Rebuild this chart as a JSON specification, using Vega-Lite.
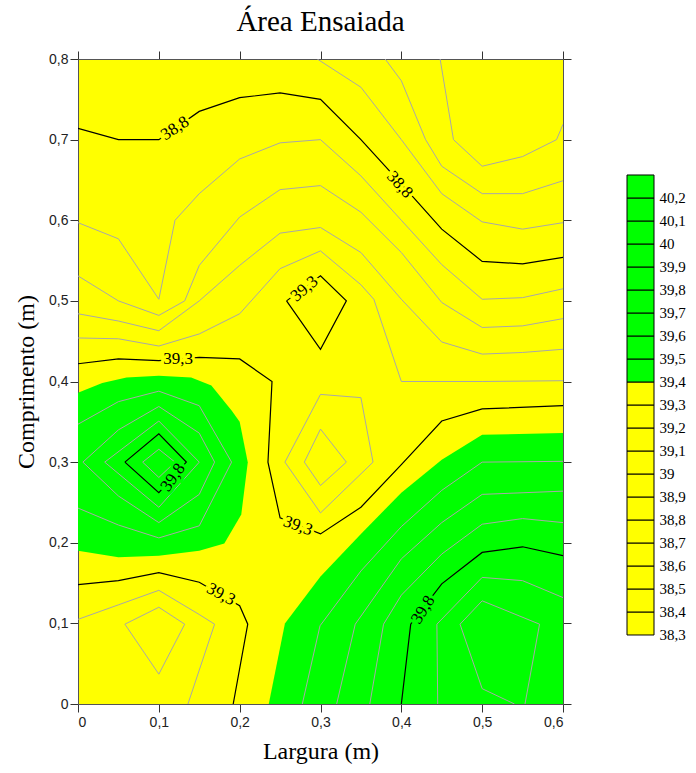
{
  "$schema": "https://vega.github.io/schema/vega-lite/v6.json",
  "background": "white",
  "padding": {"left": 14, "top": 7, "right": 5, "bottom": 5},
  "bounds": "flush",
  "spacing": 64,
  "config": {"font": "Liberation Sans", "view": {"stroke": null}},
  "datasets": {
    "shapes": [
      {"g":"f1","k":"f","i":0,"x":0,"y":0.386},{"g":"f1","k":"f","i":1,"x":0.03,"y":0.398},{"g":"f1","k":"f","i":2,"x":0.06,"y":0.405},{"g":"f1","k":"f","i":3,"x":0.1,"y":0.407},{"g":"f1","k":"f","i":4,"x":0.14,"y":0.405},{"g":"f1","k":"f","i":5,"x":0.165,"y":0.395},{"g":"f1","k":"f","i":6,"x":0.19,"y":0.364},{"g":"f1","k":"f","i":7,"x":0.2,"y":0.35},{"g":"f1","k":"f","i":8,"x":0.21,"y":0.3},{"g":"f1","k":"f","i":9,"x":0.202,"y":0.235},{"g":"f1","k":"f","i":10,"x":0.181,"y":0.199},{"g":"f1","k":"f","i":11,"x":0.15,"y":0.19},{"g":"f1","k":"f","i":12,"x":0.1,"y":0.184},{"g":"f1","k":"f","i":13,"x":0.05,"y":0.182},{"g":"f1","k":"f","i":14,"x":0,"y":0.19},
      {"g":"f2","k":"f","i":0,"x":0.236,"y":0},{"g":"f2","k":"f","i":1,"x":0.256,"y":0.1},{"g":"f2","k":"f","i":2,"x":0.3,"y":0.158},{"g":"f2","k":"f","i":3,"x":0.35,"y":0.211},{"g":"f2","k":"f","i":4,"x":0.4,"y":0.262},{"g":"f2","k":"f","i":5,"x":0.45,"y":0.303},{"g":"f2","k":"f","i":6,"x":0.5,"y":0.334},{"g":"f2","k":"f","i":7,"x":0.6,"y":0.336},{"g":"f2","k":"f","i":8,"x":0.6,"y":0},

      {"g":"g1","k":"g","i":0,"x":0.448,"y":0.8},{"g":"g1","k":"g","i":1,"x":0.4645,"y":0.7},{"g":"g1","k":"g","i":2,"x":0.5,"y":0.667},{"g":"g1","k":"g","i":3,"x":0.55,"y":0.679},{"g":"g1","k":"g","i":4,"x":0.592,"y":0.7},{"g":"g1","k":"g","i":5,"x":0.6,"y":0.719},
      {"g":"g2","k":"g","i":0,"x":0.38,"y":0.8},{"g":"g2","k":"g","i":1,"x":0.4,"y":0.773},{"g":"g2","k":"g","i":2,"x":0.43,"y":0.7},{"g":"g2","k":"g","i":3,"x":0.45,"y":0.667},{"g":"g2","k":"g","i":4,"x":0.5,"y":0.633},{"g":"g2","k":"g","i":5,"x":0.55,"y":0.633},{"g":"g2","k":"g","i":6,"x":0.6,"y":0.649},
      {"g":"g3","k":"g","i":0,"x":0.296,"y":0.8},{"g":"g3","k":"g","i":1,"x":0.35,"y":0.765},{"g":"g3","k":"g","i":2,"x":0.4,"y":0.7},{"g":"g3","k":"g","i":3,"x":0.45,"y":0.633},{"g":"g3","k":"g","i":4,"x":0.5,"y":0.598},{"g":"g3","k":"g","i":5,"x":0.55,"y":0.589},{"g":"g3","k":"g","i":6,"x":0.6,"y":0.597},
      {"g":"g4","k":"g","i":0,"x":0,"y":0.597},{"g":"g4","k":"g","i":1,"x":0.05,"y":0.577},{"g":"g4","k":"g","i":2,"x":0.1,"y":0.502},{"g":"g4","k":"g","i":3,"x":0.12,"y":0.6},{"g":"g4","k":"g","i":4,"x":0.15,"y":0.633},{"g":"g4","k":"g","i":5,"x":0.2,"y":0.676},{"g":"g4","k":"g","i":6,"x":0.25,"y":0.696},{"g":"g4","k":"g","i":7,"x":0.3,"y":0.7},{"g":"g4","k":"g","i":8,"x":0.35,"y":0.655},{"g":"g4","k":"g","i":9,"x":0.4,"y":0.6},{"g":"g4","k":"g","i":10,"x":0.45,"y":0.545},{"g":"g4","k":"g","i":11,"x":0.5,"y":0.502},{"g":"g4","k":"g","i":12,"x":0.55,"y":0.504},{"g":"g4","k":"g","i":13,"x":0.6,"y":0.515},
      {"g":"g5","k":"g","i":0,"x":0,"y":0.531},{"g":"g5","k":"g","i":1,"x":0.05,"y":0.5},{"g":"g5","k":"g","i":2,"x":0.1,"y":0.482},{"g":"g5","k":"g","i":3,"x":0.132,"y":0.5},{"g":"g5","k":"g","i":4,"x":0.15,"y":0.544},{"g":"g5","k":"g","i":5,"x":0.2,"y":0.604},{"g":"g5","k":"g","i":6,"x":0.25,"y":0.638},{"g":"g5","k":"g","i":7,"x":0.3,"y":0.643},{"g":"g5","k":"g","i":8,"x":0.35,"y":0.61},{"g":"g5","k":"g","i":9,"x":0.4,"y":0.56},{"g":"g5","k":"g","i":10,"x":0.45,"y":0.498},{"g":"g5","k":"g","i":11,"x":0.5,"y":0.467},{"g":"g5","k":"g","i":12,"x":0.55,"y":0.469},{"g":"g5","k":"g","i":13,"x":0.6,"y":0.478},
      {"g":"g6","k":"g","i":0,"x":0,"y":0.484},{"g":"g6","k":"g","i":1,"x":0.05,"y":0.475},{"g":"g6","k":"g","i":2,"x":0.1,"y":0.463},{"g":"g6","k":"g","i":3,"x":0.15,"y":0.5},{"g":"g6","k":"g","i":4,"x":0.2,"y":0.544},{"g":"g6","k":"g","i":5,"x":0.25,"y":0.584},{"g":"g6","k":"g","i":6,"x":0.3,"y":0.591},{"g":"g6","k":"g","i":7,"x":0.35,"y":0.56},{"g":"g6","k":"g","i":8,"x":0.4,"y":0.502},{"g":"g6","k":"g","i":9,"x":0.45,"y":0.449},{"g":"g6","k":"g","i":10,"x":0.5,"y":0.434},{"g":"g6","k":"g","i":11,"x":0.55,"y":0.436},{"g":"g6","k":"g","i":12,"x":0.6,"y":0.44},
      {"g":"g7","k":"g","i":0,"x":0,"y":0.454},{"g":"g7","k":"g","i":1,"x":0.05,"y":0.453},{"g":"g7","k":"g","i":2,"x":0.1,"y":0.444},{"g":"g7","k":"g","i":3,"x":0.15,"y":0.459},{"g":"g7","k":"g","i":4,"x":0.2,"y":0.484},{"g":"g7","k":"g","i":5,"x":0.25,"y":0.54},{"g":"g7","k":"g","i":6,"x":0.3,"y":0.562},{"g":"g7","k":"g","i":7,"x":0.35,"y":0.52},{"g":"g7","k":"g","i":8,"x":0.366,"y":0.502},{"g":"g7","k":"g","i":9,"x":0.4,"y":0.4},{"g":"g7","k":"g","i":10,"x":0.5,"y":0.4},{"g":"g7","k":"g","i":11,"x":0.6,"y":0.401},
      {"g":"g8","k":"g","i":0,"x":0.256,"y":0.3},{"g":"g8","k":"g","i":1,"x":0.3,"y":0.384},{"g":"g8","k":"g","i":2,"x":0.35,"y":0.38},{"g":"g8","k":"g","i":3,"x":0.365,"y":0.3},{"g":"g8","k":"g","i":4,"x":0.3,"y":0.237},{"g":"g8","k":"g","i":5,"x":0.256,"y":0.3},
      {"g":"g9","k":"g","i":0,"x":0.28,"y":0.3},{"g":"g9","k":"g","i":1,"x":0.3,"y":0.341},{"g":"g9","k":"g","i":2,"x":0.332,"y":0.3},{"g":"g9","k":"g","i":3,"x":0.3,"y":0.271},{"g":"g9","k":"g","i":4,"x":0.28,"y":0.3},
      {"g":"g10","k":"g","i":0,"x":0,"y":0.347},{"g":"g10","k":"g","i":1,"x":0.05,"y":0.375},{"g":"g10","k":"g","i":2,"x":0.1,"y":0.388},{"g":"g10","k":"g","i":3,"x":0.15,"y":0.37},{"g":"g10","k":"g","i":4,"x":0.19,"y":0.3},{"g":"g10","k":"g","i":5,"x":0.15,"y":0.221},{"g":"g10","k":"g","i":6,"x":0.1,"y":0.206},{"g":"g10","k":"g","i":7,"x":0.05,"y":0.222},{"g":"g10","k":"g","i":8,"x":0,"y":0.243},
      {"g":"g11","k":"g","i":0,"x":0.006,"y":0.3},{"g":"g11","k":"g","i":1,"x":0.05,"y":0.34},{"g":"g11","k":"g","i":2,"x":0.1,"y":0.369},{"g":"g11","k":"g","i":3,"x":0.15,"y":0.336},{"g":"g11","k":"g","i":4,"x":0.169,"y":0.3},{"g":"g11","k":"g","i":5,"x":0.15,"y":0.26},{"g":"g11","k":"g","i":6,"x":0.1,"y":0.225},{"g":"g11","k":"g","i":7,"x":0.05,"y":0.258},{"g":"g11","k":"g","i":8,"x":0.006,"y":0.3},
      {"g":"g12","k":"g","i":0,"x":0.033,"y":0.3},{"g":"g12","k":"g","i":1,"x":0.1,"y":0.351},{"g":"g12","k":"g","i":2,"x":0.15,"y":0.3},{"g":"g12","k":"g","i":3,"x":0.1,"y":0.244},{"g":"g12","k":"g","i":4,"x":0.033,"y":0.3},
      {"g":"g13","k":"g","i":0,"x":0.08,"y":0.3},{"g":"g13","k":"g","i":1,"x":0.1,"y":0.316},{"g":"g13","k":"g","i":2,"x":0.12,"y":0.3},{"g":"g13","k":"g","i":3,"x":0.1,"y":0.281},{"g":"g13","k":"g","i":4,"x":0.08,"y":0.3},
      {"g":"g14","k":"g","i":0,"x":0,"y":0.105},{"g":"g14","k":"g","i":1,"x":0.05,"y":0.123},{"g":"g14","k":"g","i":2,"x":0.1,"y":0.141},{"g":"g14","k":"g","i":3,"x":0.15,"y":0.111},{"g":"g14","k":"g","i":4,"x":0.169,"y":0.099},{"g":"g14","k":"g","i":5,"x":0.136,"y":0},
      {"g":"g15","k":"g","i":0,"x":0.058,"y":0.099},{"g":"g15","k":"g","i":1,"x":0.1,"y":0.12},{"g":"g15","k":"g","i":2,"x":0.132,"y":0.099},{"g":"g15","k":"g","i":3,"x":0.1,"y":0.037},{"g":"g15","k":"g","i":4,"x":0.058,"y":0.099},
      {"g":"g16","k":"g","i":0,"x":0.2775,"y":0},{"g":"g16","k":"g","i":1,"x":0.2994,"y":0.097},{"g":"g16","k":"g","i":2,"x":0.35,"y":0.165},{"g":"g16","k":"g","i":3,"x":0.4,"y":0.22},{"g":"g16","k":"g","i":4,"x":0.45,"y":0.265},{"g":"g16","k":"g","i":5,"x":0.5,"y":0.3},{"g":"g16","k":"g","i":6,"x":0.6,"y":0.301},
      {"g":"g17","k":"g","i":0,"x":0.32,"y":0},{"g":"g17","k":"g","i":1,"x":0.343,"y":0.099},{"g":"g17","k":"g","i":2,"x":0.4,"y":0.18},{"g":"g17","k":"g","i":3,"x":0.45,"y":0.225},{"g":"g17","k":"g","i":4,"x":0.5,"y":0.26},{"g":"g17","k":"g","i":5,"x":0.6,"y":0.264},
      {"g":"g18","k":"g","i":0,"x":0.361,"y":0},{"g":"g18","k":"g","i":1,"x":0.378,"y":0.099},{"g":"g18","k":"g","i":2,"x":0.4,"y":0.135},{"g":"g18","k":"g","i":3,"x":0.45,"y":0.186},{"g":"g18","k":"g","i":4,"x":0.5,"y":0.223},{"g":"g18","k":"g","i":5,"x":0.55,"y":0.23},{"g":"g18","k":"g","i":6,"x":0.6,"y":0.225},
      {"g":"g19","k":"g","i":0,"x":0.445,"y":0},{"g":"g19","k":"g","i":1,"x":0.444,"y":0.099},{"g":"g19","k":"g","i":2,"x":0.5,"y":0.157},{"g":"g19","k":"g","i":3,"x":0.55,"y":0.153},{"g":"g19","k":"g","i":4,"x":0.6,"y":0.132},
      {"g":"g20","k":"g","i":0,"x":0.54,"y":0},{"g":"g20","k":"g","i":1,"x":0.5,"y":0.019},{"g":"g20","k":"g","i":2,"x":0.4726,"y":0.099},{"g":"g20","k":"g","i":3,"x":0.5,"y":0.128},{"g":"g20","k":"g","i":4,"x":0.571,"y":0.099},{"g":"g20","k":"g","i":5,"x":0.553,"y":0},

      {"g":"b1","k":"b","i":0,"x":0,"y":0.714},{"g":"b1","k":"b","i":1,"x":0.05,"y":0.7},{"g":"b1","k":"b","i":2,"x":0.1,"y":0.7},{"g":"b1","k":"b","i":3,"x":0.15,"y":0.735},{"g":"b1","k":"b","i":4,"x":0.2,"y":0.752},{"g":"b1","k":"b","i":5,"x":0.25,"y":0.758},{"g":"b1","k":"b","i":6,"x":0.3,"y":0.75},{"g":"b1","k":"b","i":7,"x":0.35,"y":0.7},{"g":"b1","k":"b","i":8,"x":0.4,"y":0.645},{"g":"b1","k":"b","i":9,"x":0.45,"y":0.589},{"g":"b1","k":"b","i":10,"x":0.5,"y":0.549},{"g":"b1","k":"b","i":11,"x":0.55,"y":0.546},{"g":"b1","k":"b","i":12,"x":0.6,"y":0.554},
      {"g":"b2","k":"b","i":0,"x":0,"y":0.422},{"g":"b2","k":"b","i":1,"x":0.05,"y":0.428},{"g":"b2","k":"b","i":2,"x":0.1,"y":0.426},{"g":"b2","k":"b","i":3,"x":0.15,"y":0.43},{"g":"b2","k":"b","i":4,"x":0.2,"y":0.428},{"g":"b2","k":"b","i":5,"x":0.24,"y":0.4},{"g":"b2","k":"b","i":6,"x":0.235,"y":0.3},{"g":"b2","k":"b","i":7,"x":0.25,"y":0.231},{"g":"b2","k":"b","i":8,"x":0.3,"y":0.211},{"g":"b2","k":"b","i":9,"x":0.35,"y":0.244},{"g":"b2","k":"b","i":10,"x":0.4,"y":0.297},{"g":"b2","k":"b","i":11,"x":0.45,"y":0.351},{"g":"b2","k":"b","i":12,"x":0.5,"y":0.366},{"g":"b2","k":"b","i":13,"x":0.6,"y":0.37},
      {"g":"b3","k":"b","i":0,"x":0.258,"y":0.5},{"g":"b3","k":"b","i":1,"x":0.3,"y":0.44},{"g":"b3","k":"b","i":2,"x":0.332,"y":0.5},{"g":"b3","k":"b","i":3,"x":0.3,"y":0.531},{"g":"b3","k":"b","i":4,"x":0.258,"y":0.5},
      {"g":"b4","k":"b","i":0,"x":0,"y":0.148},{"g":"b4","k":"b","i":1,"x":0.05,"y":0.153},{"g":"b4","k":"b","i":2,"x":0.1,"y":0.163},{"g":"b4","k":"b","i":3,"x":0.15,"y":0.151},{"g":"b4","k":"b","i":4,"x":0.2,"y":0.122},{"g":"b4","k":"b","i":5,"x":0.21,"y":0.099},{"g":"b4","k":"b","i":6,"x":0.192,"y":0},
      {"g":"b5","k":"b","i":0,"x":0.058,"y":0.3},{"g":"b5","k":"b","i":1,"x":0.1,"y":0.335},{"g":"b5","k":"b","i":2,"x":0.134,"y":0.3},{"g":"b5","k":"b","i":3,"x":0.1,"y":0.262},{"g":"b5","k":"b","i":4,"x":0.058,"y":0.3},
      {"g":"b6","k":"b","i":0,"x":0.4,"y":0},{"g":"b6","k":"b","i":1,"x":0.4116,"y":0.099},{"g":"b6","k":"b","i":2,"x":0.45,"y":0.149},{"g":"b6","k":"b","i":3,"x":0.5,"y":0.188},{"g":"b6","k":"b","i":4,"x":0.55,"y":0.195},{"g":"b6","k":"b","i":5,"x":0.6,"y":0.184}
    ],
    "labels": [
      {"t":"38,8","x":0.12,"y":0.714,"a":-33,"bg":"#ffff00"},
      {"t":"38,8","x":0.398,"y":0.644,"a":48,"bg":"#ffff00"},
      {"t":"39,3","x":0.124,"y":0.428,"a":0,"bg":"#ffff00"},
      {"t":"39,3","x":0.28,"y":0.515,"a":-40,"bg":"#ffff00"},
      {"t":"39,3","x":0.272,"y":0.221,"a":20,"bg":"#ffff00"},
      {"t":"39,3","x":0.177,"y":0.136,"a":28,"bg":"#ffff00"},
      {"t":"39,8","x":0.1175,"y":0.281,"a":-55,"bg":"#00ff00"},
      {"t":"39,8","x":0.427,"y":0.117,"a":-58,"bg":"#00ff00"}
    ],
    "levels": [
      {"lo":38.3,"hi":38.4,"c":"#ffff00"},{"lo":38.4,"hi":38.5,"c":"#ffff00"},{"lo":38.5,"hi":38.6,"c":"#ffff00"},{"lo":38.6,"hi":38.7,"c":"#ffff00"},{"lo":38.7,"hi":38.8,"c":"#ffff00"},{"lo":38.8,"hi":38.9,"c":"#ffff00"},{"lo":38.9,"hi":39.0,"c":"#ffff00"},{"lo":39.0,"hi":39.1,"c":"#ffff00"},{"lo":39.1,"hi":39.2,"c":"#ffff00"},{"lo":39.2,"hi":39.3,"c":"#ffff00"},{"lo":39.3,"hi":39.4,"c":"#ffff00"},
      {"lo":39.4,"hi":39.5,"c":"#00ff00"},{"lo":39.5,"hi":39.6,"c":"#00ff00"},{"lo":39.6,"hi":39.7,"c":"#00ff00"},{"lo":39.7,"hi":39.8,"c":"#00ff00"},{"lo":39.8,"hi":39.9,"c":"#00ff00"},{"lo":39.9,"hi":40.0,"c":"#00ff00"},{"lo":40.0,"hi":40.1,"c":"#00ff00"},{"lo":40.1,"hi":40.2,"c":"#00ff00"},{"lo":40.2,"hi":40.3,"c":"#00ff00"}
    ]
  },
  "hconcat": [
    {
      "width": 485,
      "height": 645,
      "title": {"text": "Área Ensaiada", "font": "Liberation Serif", "fontSize": 29, "fontWeight": "normal", "color": "black", "anchor": "middle", "offset": 14},
      "view": {"fill": "#ffff00", "stroke": null},
      "data": {"name": "shapes"},
      "layer": [
        {
          "transform": [{"filter": "datum.k == 'f'"}],
          "mark": {"type": "line", "fill": "#00ff00", "stroke": "#00ff00", "strokeWidth": 0, "interpolate": "linear-closed"},
          "encoding": {
            "x": {"field": "x", "type": "quantitative", "scale": {"domain": [0, 0.6], "nice": false},
              "axis": {"orient": "bottom", "values": [0, 0.1, 0.2, 0.3, 0.4, 0.5, 0.6], "format": ".1~f", "labelExpr": "replace(datum.label, '.', ',')",
                "title": "Largura (m)", "grid": false, "tickSize": 8, "labelPadding": 3, "titlePadding": 10,
                "domainColor": "#555", "tickColor": "#333", "labelFont": "Liberation Sans", "labelFontSize": 14, "labelColor": "#222",
                "titleFont": "Liberation Serif", "titleFontSize": 24, "titleFontWeight": "normal", "titleColor": "black"}},
            "y": {"field": "y", "type": "quantitative", "scale": {"domain": [0, 0.8], "nice": false},
              "axis": {"orient": "left", "values": [0, 0.1, 0.2, 0.3, 0.4, 0.5, 0.6, 0.7, 0.8], "format": ".1~f", "labelExpr": "replace(datum.label, '.', ',')",
                "title": "Comprimento (m)", "grid": false, "tickSize": 8, "labelPadding": 2, "titlePadding": 10,
                "domainColor": "#555", "tickColor": "#333", "labelFont": "Liberation Sans", "labelFontSize": 14, "labelColor": "#222",
                "titleFont": "Liberation Serif", "titleFontSize": 24, "titleFontWeight": "normal", "titleColor": "black"}},
            "detail": {"field": "g", "type": "nominal"},
            "order": {"field": "i", "type": "quantitative"}
          }
        },
        {
          "transform": [{"filter": "datum.k == 'g'"}],
          "mark": {"type": "line", "stroke": "#a8a8a8", "strokeWidth": 1, "clip": true},
          "encoding": {
            "x": {"field": "x", "type": "quantitative",
              "axis": {"orient": "top", "values": [0, 0.1, 0.2, 0.3, 0.4, 0.5, 0.6], "labels": false, "title": null, "grid": false, "tickSize": 8, "domainColor": "#555", "tickColor": "#333"}},
            "y": {"field": "y", "type": "quantitative",
              "axis": {"orient": "right", "values": [0, 0.1, 0.2, 0.3, 0.4, 0.5, 0.6, 0.7, 0.8], "labels": false, "title": null, "grid": false, "tickSize": 8, "domainColor": "#555", "tickColor": "#333"}},
            "detail": {"field": "g", "type": "nominal"},
            "order": {"field": "i", "type": "quantitative"}
          }
        },
        {
          "transform": [{"filter": "datum.k == 'b'"}],
          "mark": {"type": "line", "stroke": "black", "strokeWidth": 1.2, "clip": true},
          "encoding": {
            "x": {"field": "x", "type": "quantitative", "axis": null},
            "y": {"field": "y", "type": "quantitative", "axis": null},
            "detail": {"field": "g", "type": "nominal"},
            "order": {"field": "i", "type": "quantitative"}
          }
        },
        {
          "data": {"name": "labels"},
          "mark": {"type": "text", "font": "Liberation Serif", "fontSize": 17, "strokeWidth": 6, "align": "center", "baseline": "middle"},
          "encoding": {
            "x": {"field": "x", "type": "quantitative", "axis": null},
            "y": {"field": "y", "type": "quantitative", "axis": null},
            "text": {"field": "t"},
            "angle": {"field": "a", "type": "quantitative", "scale": null},
            "stroke": {"field": "bg", "type": "nominal", "scale": null},
            "fill": {"field": "bg", "type": "nominal", "scale": null}
          }
        },
        {
          "data": {"name": "labels"},
          "mark": {"type": "text", "font": "Liberation Serif", "fontSize": 17, "color": "black", "align": "center", "baseline": "middle"},
          "encoding": {
            "x": {"field": "x", "type": "quantitative", "axis": null},
            "y": {"field": "y", "type": "quantitative", "axis": null},
            "text": {"field": "t"},
            "angle": {"field": "a", "type": "quantitative", "scale": null}
          }
        }
      ],
      "resolve": {"axis": {"x": "independent", "y": "independent"}}
    },
    {
      "width": 27,
      "height": 645,
      "view": {"stroke": null},
      "data": {"name": "levels"},
      "mark": {"type": "rect", "stroke": "black", "strokeWidth": 1},
      "encoding": {
        "y": {"field": "lo", "type": "quantitative", "scale": {"domain": [38.0, 40.8043], "nice": false, "zero": false},
          "axis": {"orient": "right", "values": [38.3, 38.4, 38.5, 38.6, 38.7, 38.8, 38.9, 39.0, 39.1, 39.2, 39.3, 39.4, 39.5, 39.6, 39.7, 39.8, 39.9, 40.0, 40.1, 40.2],
            "format": ".1~f", "labelExpr": "replace(datum.label, '.', ',')", "domain": false, "ticks": false, "grid": false, "title": null,
            "labelPadding": 5, "labelFont": "Liberation Serif", "labelFontSize": 15, "labelColor": "black"}},
        "y2": {"field": "hi"},
        "fill": {"field": "c", "type": "nominal", "scale": null}
      }
    }
  ]
}
